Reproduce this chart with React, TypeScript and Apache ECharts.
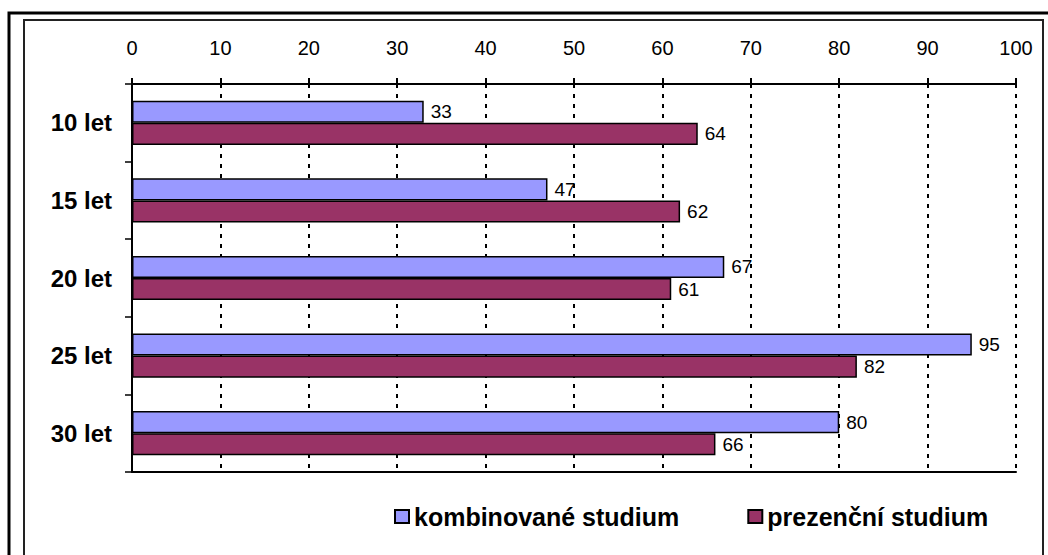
import React, { useEffect, useRef } from "react";
import * as echarts from "echarts";

const categories = ["10 let", "15 let", "20 let", "25 let", "30 let"];
const kombinovane = [33, 47, 67, 95, 80];
const prezencni = [64, 62, 61, 82, 66];
const seriesNames = ["kombinované studium", "prezenční studium"];

export default function App() {
  const ref = useRef<HTMLDivElement>(null);
  useEffect(() => {
    const chart = echarts.init(ref.current!, undefined, { renderer: "svg" });
    const font = "Arial, 'Liberation Sans', sans-serif";
    chart.setOption({
      animation: false,
      backgroundColor: "#ffffff",
      textStyle: { fontFamily: font },
      graphic: [
        { type: "rect", shape: { x: 9, y: 13, width: 1080, height: 600 }, style: { fill: "none", stroke: "#000", lineWidth: 3 }, silent: true },
        { type: "rect", shape: { x: 24, y: 20, width: 1019, height: 600 }, style: { fill: "none", stroke: "#222", lineWidth: 2 }, silent: true },
      ],
      grid: { left: 132, top: 84, width: 884, height: 388, containLabel: false },
      xAxis: [
        {
          type: "value",
          position: "top",
          min: 0,
          max: 100,
          interval: 10,
          axisLine: { show: true, lineStyle: { color: "#000", width: 2 } },
          axisTick: { show: true, length: 6, lineStyle: { color: "#000", width: 2 } },
          axisLabel: { fontSize: 20, color: "#000", margin: 26, fontFamily: font },
          splitLine: { show: true, lineStyle: { color: "#000", width: 2, type: [4, 6] } },
        },
        {
          type: "value",
          position: "bottom",
          min: 0,
          max: 100,
          axisLine: { show: true, onZero: false, lineStyle: { color: "#000", width: 2 } },
          axisTick: { show: false },
          axisLabel: { show: false },
          splitLine: { show: false },
        },
      ],
      yAxis: {
        type: "category",
        inverse: true,
        data: categories,
        axisLine: { show: true, lineStyle: { color: "#000", width: 2 } },
        axisTick: { show: true, length: 7, lineStyle: { color: "#000", width: 1.5 } },
        axisLabel: { fontSize: 24, fontWeight: "bold", color: "#000", margin: 20, fontFamily: font },
      },
      legend: {
        left: 389,
        top: 499,
        itemWidth: 14,
        itemHeight: 13,
        itemGap: 68,
        icon: "rect",
        textStyle: { fontSize: 25, fontWeight: "bold", color: "#000", fontFamily: font, padding: [0, 0, 0, 0] },
        data: seriesNames,
      },
      series: [
        {
          name: seriesNames[0],
          type: "bar",
          data: kombinovane,
          barGap: "0%",
          barCategoryGap: "43%",
          itemStyle: { color: "#9999FF", borderColor: "#000", borderWidth: 1.5 },
          label: { show: true, position: "right", distance: 7, fontSize: 19, color: "#000", fontFamily: font },
        },
        {
          name: seriesNames[1],
          type: "bar",
          data: prezencni,
          itemStyle: { color: "#993366", borderColor: "#000", borderWidth: 1.5 },
          label: { show: true, position: "right", distance: 7, fontSize: 19, color: "#000", fontFamily: font },
        },
      ],
    });
    return () => chart.dispose();
  }, []);
  return <div ref={ref} style={{ position: "absolute", left: 0, top: 0, width: 1048, height: 555 }} />;
}
